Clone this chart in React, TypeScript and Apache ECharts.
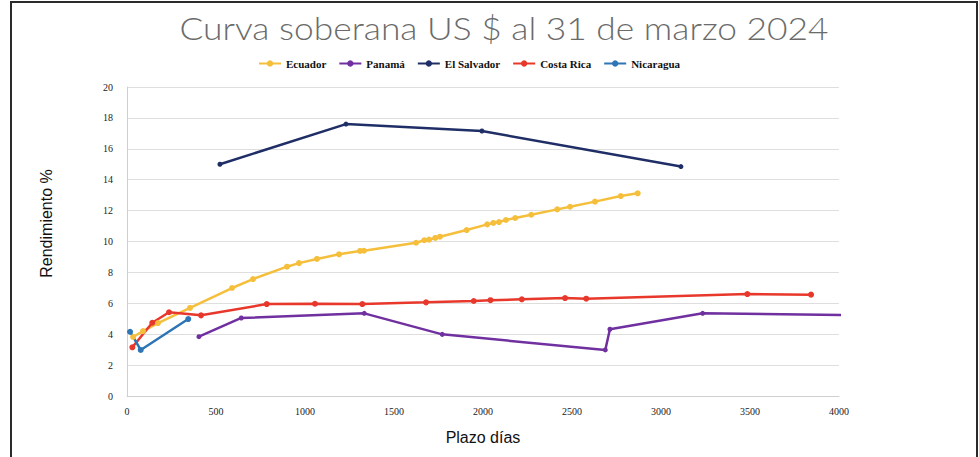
import React, { useEffect, useRef } from "react";
import * as echarts from "echarts";

const seriesNames = ["Ecuador", "Panamá", "El Salvador", "Costa Rica", "Nicaragua"];
const seriesColors = ["#F5BF3C", "#7030A0", "#1F2E66", "#E8372B", "#2E75B6"];

const ecuador: [number, number][] = [
  [34, 3.82], [90, 4.2], [174, 4.72], [354, 5.7], [590, 6.99], [708, 7.57],
  [899, 8.37], [966, 8.6], [1067, 8.87], [1191, 9.17], [1309, 9.39], [1331, 9.4],
  [1624, 9.92], [1670, 10.08], [1697, 10.12], [1732, 10.23], [1758, 10.31],
  [1908, 10.74], [2024, 11.11], [2058, 11.2], [2090, 11.26], [2129, 11.39],
  [2181, 11.52], [2271, 11.73], [2417, 12.08], [2489, 12.25], [2629, 12.58],
  [2774, 12.94], [2869, 13.12],
];
const panama: [number, number][] = [
  [404, 3.84], [642, 5.05], [1333, 5.35], [1771, 3.99], [2687, 2.98],
  [2713, 4.32], [3234, 5.35], [6000, 4.95],
];
const elSalvador: [number, number][] = [
  [522, 15.0], [1230, 17.6], [1994, 17.15], [3112, 14.85],
];
const costaRica: [number, number][] = [
  [30, 3.15], [142, 4.74], [236, 5.42], [416, 5.22], [785, 5.95], [1056, 5.97],
  [1322, 5.95], [1680, 6.06], [1948, 6.15], [2042, 6.2], [2218, 6.26],
  [2461, 6.34], [2580, 6.3], [3485, 6.6], [3843, 6.56],
];
const nicaragua: [number, number][] = [
  [17, 4.16], [77, 2.98], [344, 4.98],
];

const allData = [ecuador, panama, elSalvador, costaRica, nicaragua];
const symbolSizes = [6, 5, 5, 6, 6];

const titleText = "Curva soberana US $ al 31 de marzo 2024";
const xName = "Plazo días";
const yName = "Rendimiento %";

export default function App() {
  const ref = useRef<HTMLDivElement>(null);
  useEffect(() => {
    document.body.style.margin = "0";
    const chart = echarts.init(ref.current!, null, { renderer: "svg" });
    chart.setOption({
      animation: false,
      backgroundColor: "#ffffff",
      legend: {
        data: seriesNames,
        top: 53,
        left: 253,
        itemWidth: 22,
        itemHeight: 8,
        itemGap: 12,
        textStyle: {
          fontFamily: "Liberation Serif",
          fontWeight: "bold",
          fontSize: 11,
          color: "#111",
        },
      },
      grid: { left: 127, right: 140, top: 87, bottom: 61 },
      xAxis: {
        type: "value",
        min: 0,
        max: 4000,
        interval: 500,
        name: xName,
        nameLocation: "middle",
        nameGap: 33,
        nameTextStyle: { fontFamily: "Liberation Sans", fontSize: 16, color: "#111" },
        axisLine: { show: true, lineStyle: { color: "#cfcfcf" } },
        axisTick: { show: false },
        splitLine: { show: false },
        axisLabel: {
          fontFamily: "Liberation Serif",
          fontSize: 10,
          color: "#222",
          margin: 10,
          formatter: (v: number) => String(v),
        },
      },
      yAxis: {
        type: "value",
        min: 0,
        max: 20,
        interval: 2,
        name: yName,
        nameLocation: "middle",
        nameGap: 73,
        nameTextStyle: {
          fontFamily: "Liberation Sans",
          fontSize: 16,
          color: "#111",
          padding: [0, 0, 0, 36],
        },
        axisLine: { show: true, lineStyle: { color: "#cfcfcf" } },
        axisTick: { show: false },
        splitLine: { show: true, lineStyle: { color: "#dedede" } },
        axisLabel: {
          fontFamily: "Liberation Serif",
          fontSize: 10,
          color: "#222",
          margin: 14,
        },
      },
      graphic: [
        {
          type: "rect",
          shape: { x: 11, y: 2, width: 966, height: 480 },
          style: { fill: "none", stroke: "#2a2a2a", lineWidth: 2 },
          silent: true,
        },
        {
          type: "text",
          x: 504,
          y: 28,
          scaleX: 1.14,
          silent: true,
          style: {
            text: titleText,
            fontFamily: "Lato",
            fontWeight: 300,
            fontSize: 31,
            fill: "#6b6b6b",
            align: "center",
            verticalAlign: "middle",
          },
        },
      ],
      series: seriesNames.map((name, i) => ({
        name,
        type: "line",
        data: allData[i],
        color: seriesColors[i],
        symbol: "circle",
        symbolSize: symbolSizes[i],
        showAllSymbol: true,
        clip: true,
        lineStyle: { width: 2.5, color: seriesColors[i] },
        itemStyle: { color: seriesColors[i] },
      })),
    });
    return () => chart.dispose();
  }, []);
  return <div ref={ref} style={{ width: 979, height: 457 }} />;
}
